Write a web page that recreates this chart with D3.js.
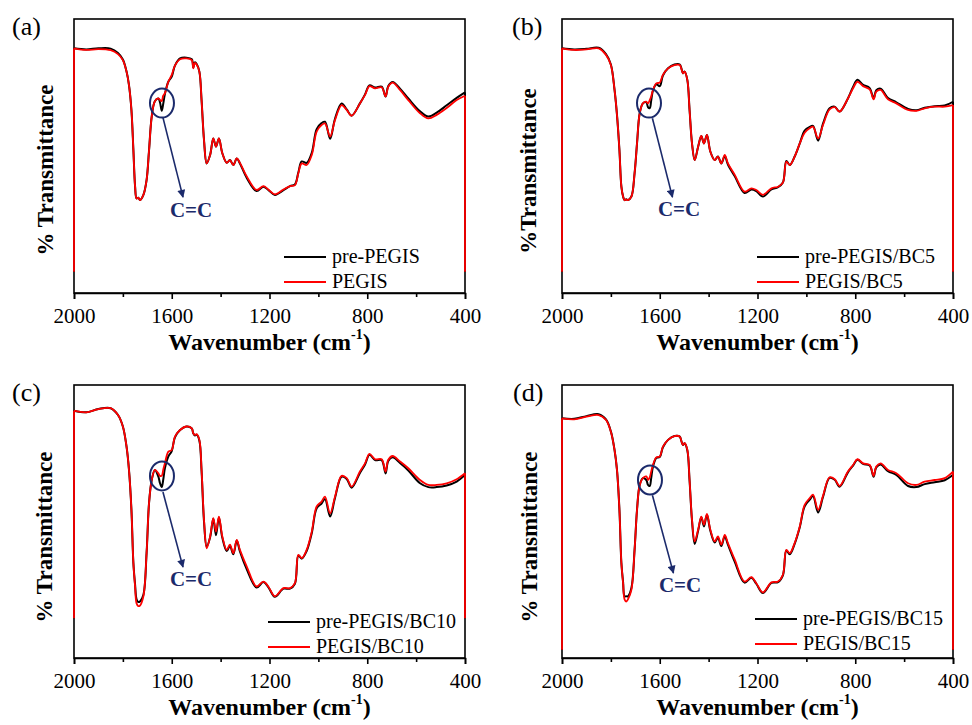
<!DOCTYPE html>
<html><head><meta charset="utf-8">
<script src="https://cdn.jsdelivr.net/npm/d3@7"></script>
<style>
body{margin:0;background:#fff}
svg{display:block}
text{font-family:"Liberation Serif","Times New Roman",serif}
</style>
</head><body><svg id="chart" width="972" height="725"></svg>
<script>
// ---------- DATA ----------
const wavenumbers=[2000,1950,1900,1850,1820,1800,1785,1775,1765,1757,1750,1744,1737,1730,1716,1703,1693,1682,1669,1655,1648,1641,1635,1628,1614,1600,1587,1566,1540,1518,1512,1505,1498,1487,1478,1468,1457,1443,1430,1419,1407,1393,1375,1362,1348,1334,1321,1293,1253,1225,1205,1178,1143,1116,1096,1082,1068,1048,1027,1007,987,973,952,932,905,884,864,830,809,791,768,741,725,714,696,666,632,584,550,516,475,434,400];

const panelLetters=["(a)","(b)","(c)","(d)"];
const preNames=["pre-PEGIS","pre-PEGIS/BC5","pre-PEGIS/BC10","pre-PEGIS/BC15"];
const postNames=["PEGIS","PEGIS/BC5","PEGIS/BC10","PEGIS/BC15"];
const yTitles=["% Transmittance","%Transmittance","% Transmittance","% Transmittance"];
const xTitle="Wavenumber (cm";
const xTitleSup="-1";
const xTicksMajor=[2000,1600,1200,800,400];
const xTicksMinor=[1800,1400,1000,600];
const annotationText="C=C";

const pegisA=[89.3,88.7,89.0,88.6,87.2, 85.0,80.8,75.9,66.8,52.2, 38.8,34.5,34.8,33.9,35.8, 41.2,52.0,64.4,70.0,71.0, 70.5,70.0,72.0,72.9,77.1, 79.6,83.0,85.3,85.6,85.0, 82.0,84.0,83.4,80.8,70.4, 55.8,47.3,50.4,56.4,53.4, 56.4,51.0,47.5,48.5,46.7, 49.1,47.5,42.5,37.6,39.0, 37.8,36.0,37.8,39.0,39.4, 43.7,47.3,46.7,50.4,58.9, 61.3,61.9,57.1,63.1,68.6, 66.8,64.7,69.2,72.3,75.5, 74.7,75.1,71.7,75.3,76.8, 74.1,70.4,65.6,63.7,65.0, 67.5,70.4,72.0];
const preA=[89.3,88.9,89.3,89.2,87.6, 85.2,80.8,75.9,66.8,52.2, 38.8,34.5,34.8,33.9,35.8, 41.2,52.0,64.4,70.0,71.0, 69.5,66.5,69.0,72.6,77.1, 79.0,83.0,85.6,85.9,85.3, 82.3,84.2,83.6,80.8,70.4, 55.8,47.3,50.4,56.4,53.4, 56.4,51.0,47.5,48.5,46.7, 49.1,47.3,42.0,37.2,38.8, 37.6,35.8,37.5,39.0,39.6, 44.0,48.0,47.5,51.2,59.8, 62.0,62.5,56.3,63.6,69.2, 67.0,64.7,69.2,72.5,75.8, 75.0,75.3,71.7,75.5,77.0, 74.6,71.0,66.3,64.4,65.8, 68.5,71.2,73.2];

const pegisB=[89.3,88.7,88.9,89.3,86.9, 83.2,74.1,65.0,52.2,38.8, 35.2,33.9,34.2,33.9,35.2, 43.7,54.6,65.6,69.2,69.8, 69.2,70.4,71.7,74.1,76.5, 76.8,79.6,82.0,83.2,83.2, 82.0,80.2,80.8,77.7,66.8, 54.6,48.5,53.4,57.3,54.6, 57.7,51.6,48.5,49.8,47.3, 50.4,47.3,43.1,37.0,38.2, 37.6,35.8,38.2,38.8,40.3, 47.9,46.7,49.8,54.6,58.5, 60.1,60.7,56.4,61.3,67.0, 67.8,66.2,71.0,74.7,77.1, 75.5,74.3,70.7,73.5,74.1, 70.7,69.2,66.8,66.5,67.4, 68.0,68.0,68.6];
const preB=[89.3,88.9,89.1,89.5,87.2, 83.4,74.1,65.0,52.2,38.8, 35.2,33.9,34.2,33.9,35.2, 43.7,54.6,65.6,69.2,69.6, 67.8,67.5,70.2,73.8,76.2, 75.5,79.4,82.0,83.4,83.4, 82.2,80.2,80.8,77.7,66.8, 54.6,48.5,53.4,57.3,54.6, 57.7,51.6,48.5,49.8,47.3, 50.0,46.9,42.6,36.5,37.8, 37.2,35.2,37.8,38.6,40.3, 48.2,46.7,49.8,54.6,59.3, 60.6,61.0,55.6,61.8,67.4, 68.0,66.2,71.0,75.2,77.8, 76.0,74.8,71.0,74.0,74.6, 71.2,69.6,67.2,66.7,67.6, 68.2,68.4,69.8];

const pegisC=[90.6,90.0,91.2,91.5,89.0, 84.8,77.4,68.9,54.3,34.8, 26.2,20.0,19.0,19.2,22.6, 38.4,56.7,65.2,68.9,67.7, 66.7,66.7,68.9,71.3,75.6, 76.2,81.1,83.5,84.8,84.1, 82.3,81.7,82.0,79.9,68.9, 50.6,40.2,44.5,51.2,46.3, 51.8,44.5,39.6,41.5,38.4, 43.3,39.6,33.5,26.2,28.0, 26.2,22.6,25.6,25.6,27.4, 37.8,36.6,39.6,46.3,55.5, 57.3,59.1,53.0,59.1,66.7, 65.9,62.8,68.3,71.3,74.8, 72.8,72.8,68.3,72.6,74.0, 72.0,69.5,65.2,63.4,63.4, 64.0,65.5,67.7];
const preC=[90.6,90.0,91.2,91.5,89.0, 84.8,77.4,68.9,54.3,34.8, 26.8,21.5,20.5,20.7,23.2, 38.4,56.7,65.2,68.9,66.5, 64.0,62.6,65.2,69.5,73.8, 75.8,80.8,83.5,84.8,84.1, 82.3,81.5,81.8,79.6,68.5, 50.0,40.8,44.2,51.0,45.0, 51.5,44.0,39.2,41.0,38.0, 43.0,39.0,32.5,25.8,27.8, 26.0,22.4,25.4,25.4,27.2, 37.5,36.4,39.2,45.8,54.8, 56.6,58.2,51.8,58.6,66.4, 65.6,62.4,67.8,70.9,74.4, 72.5,72.5,67.6,72.2,73.5, 71.4,68.7,64.0,62.6,62.6, 63.2,64.6,67.1];

const pegisD=[87.8,87.4,88.4,89.0,87.2, 82.9,76.2,68.9,54.3,34.8, 27.4,21.5,20.7,21.5,25.0, 39.6,54.3,63.4,65.9,66.5, 65.2,66.2,68.3,70.7,73.5, 73.8,77.4,79.9,81.3,81.1, 79.6,78.0,78.7,76.2,65.2, 50.6,42.7,47.0,51.8,48.8, 52.8,47.0,42.7,44.5,41.5, 45.1,42.1,36.0,28.0,29.6, 27.4,24.0,27.7,28.0,30.5, 39.6,38.4,42.1,48.2,56.1, 58.5,59.8,54.3,59.4,66.2, 65.5,63.0,68.3,70.7,72.8, 71.3,70.7,66.7,70.1,71.3, 68.9,67.7,64.0,63.4,64.6, 65.2,65.9,68.3];
const preD=[87.8,87.6,88.6,89.3,87.4, 83.0,76.2,68.9,54.3,34.8, 27.8,22.6,22.6,22.6,25.6, 39.6,54.3,63.4,65.9,65.2, 63.4,63.0,65.9,70.0,73.3, 73.6,77.2,79.9,81.3,81.1, 79.6,78.0,78.7,76.0,65.0, 50.3,41.8,46.6,51.6,48.2, 52.5,46.6,42.3,44.0,41.0, 44.6,41.5,35.2,27.6,29.4, 27.2,23.8,27.5,27.8,30.3, 39.4,38.0,41.8,47.9,55.6, 57.9,59.3,53.3,59.0,66.0, 65.3,62.7,68.0,70.5,72.6, 71.1,70.5,66.4,69.8,70.9, 68.4,67.1,63.0,62.6,63.7, 64.4,65.1,67.1];

const preSeries=[preA,preB,preC,preD];
const postSeries=[pegisA,pegisB,pegisC,pegisD];
const edgeLow=[7.8,7.8,14.6,3.0];

// annotation anchors in data units: [wavenumber, value]
const annCircle=[[1640,69.3],[1644,69.3],[1640,66.7],[1640,65.2]];
const annArrowFrom=[[1636,64.0],[1630,63.8],[1636,60.8],[1630,59.6]];
const annArrowTo=[[1554,35.0],[1548,35.0],[1554,33.3],[1544,31.1]];
const annLabel=[[1521,30.3],[1521,30.7],[1521,28.9],[1517,26.7]];

// ---------- LAYOUT ----------
const layout=[
 {x0:74,x1:465,y0:19,y1:293,lab:[12,35],yt:[45,170],lx:284,ly:257},
 {x0:562,x1:953,y0:19,y1:293,lab:[512,35],yt:[528,171],lx:757,ly:257},
 {x0:74,x1:465,y0:385,y1:658,lab:[12,401],yt:[44,537],lx:268,ly:622},
 {x0:562,x1:953,y0:385,y1:658,lab:[513,401],yt:[529,537],lx:755,ly:619}
];
const navy="#1b2a6b";

const svg=d3.select("#chart");
const defs=svg.append("defs");
defs.append("marker").attr("id","arrowhead").attr("viewBox","0 0 10 10")
 .attr("refX",9).attr("refY",5).attr("markerWidth",9).attr("markerHeight",8)
 .attr("markerUnits","userSpaceOnUse").attr("orient","auto")
 .append("path").attr("d","M0,0 L10,5 L0,10 Z").attr("fill",navy);

layout.forEach((L,i)=>{
  const g=svg.append("g");
  const x=d3.scaleLinear().domain([2000,400]).range([L.x0,L.x1]);
  const y=d3.scaleLinear().domain([0,100]).range([L.y1,L.y0]);

  const pts=(vals)=>vals.map((v,k)=>[wavenumbers[k],v]);
  const edges=(vals)=>[
    [[wavenumbers[0],edgeLow[i]],[wavenumbers[0],vals[0]]],
    [[wavenumbers[wavenumbers.length-1],vals[vals.length-1]],[wavenumbers[wavenumbers.length-1],edgeLow[i]]]
  ];
  const smooth=d3.line().x(d=>x(d[0])).y(d=>y(d[1])).curve(d3.curveCatmullRom.alpha(0.5));
  const straight=d3.line().x(d=>x(d[0])).y(d=>y(d[1]));

  // frame
  g.append("rect").attr("x",L.x0).attr("y",L.y0).attr("width",L.x1-L.x0).attr("height",L.y1-L.y0)
   .attr("fill","none").attr("stroke","#000").attr("stroke-width",1.6);

  [[preSeries[i],"#000",2],[postSeries[i],"#ff0000",1.8]].forEach(([vals,col,w])=>{
    edges(vals).forEach(seg=>{
      g.append("path").datum(seg).attr("d",straight).attr("fill","none")
       .attr("stroke",col).attr("stroke-width",w);
    });
    g.append("path").datum(pts(vals)).attr("d",smooth).attr("fill","none")
     .attr("stroke",col).attr("stroke-width",w).attr("stroke-linejoin","round");
  });

  // axes
  const ax=g.append("g").attr("transform",`translate(0,${L.y1})`)
   .call(d3.axisBottom(x).tickValues(xTicksMajor).tickSize(6).tickPadding(9).tickFormat(d3.format("d")));
  ax.select(".domain").attr("stroke-width",1.6);
  ax.selectAll(".tick line").attr("stroke-width",1.6);
  ax.selectAll("text").attr("font-size",21).attr("fill","#000");
  const axm=g.append("g").attr("transform",`translate(0,${L.y1})`)
   .call(d3.axisBottom(x).tickValues(xTicksMinor).tickSize(4).tickFormat(""));
  axm.select(".domain").remove();
  axm.selectAll(".tick line").attr("stroke-width",1.6);

  // x title
  const xt=g.append("text").attr("x",(L.x0+L.x1)/2).attr("y",L.y1+57).attr("text-anchor","middle")
   .attr("font-size",24).attr("font-weight","bold");
  xt.append("tspan").text(xTitle);
  xt.append("tspan").attr("font-size",14).attr("dy",-11).text(xTitleSup);
  xt.append("tspan").attr("dy",11).text(")");

  // y title
  g.append("text").attr("transform",`translate(${L.yt[0]},${L.yt[1]}) rotate(-90)`)
   .attr("text-anchor","middle").attr("dominant-baseline","central")
   .attr("font-size",23).attr("font-weight","bold").text(yTitles[i]);

  // panel letter
  g.append("text").attr("x",L.lab[0]).attr("y",L.lab[1]).attr("font-size",26).text(panelLetters[i]);

  // legend
  [[preNames[i],"#000"],[postNames[i],"#ff0000"]].forEach((e,k)=>{
    const ly=L.ly+k*25;
    g.append("line").attr("x1",L.lx).attr("x2",L.lx+42).attr("y1",ly).attr("y2",ly)
     .attr("stroke",e[1]).attr("stroke-width",2);
    g.append("text").attr("x",L.lx+48).attr("y",ly+6).attr("font-size",20).text(e[0]);
  });

  // annotation
  g.append("ellipse").attr("cx",x(annCircle[i][0])).attr("cy",y(annCircle[i][1]))
   .attr("rx",12).attr("ry",14.5).attr("fill","none").attr("stroke",navy).attr("stroke-width",2);
  g.append("line").attr("x1",x(annArrowFrom[i][0])).attr("y1",y(annArrowFrom[i][1]))
   .attr("x2",x(annArrowTo[i][0])).attr("y2",y(annArrowTo[i][1]))
   .attr("stroke",navy).attr("stroke-width",1.6).attr("marker-end","url(#arrowhead)");
  g.append("text").attr("x",x(annLabel[i][0])).attr("y",y(annLabel[i][1]))
   .attr("text-anchor","middle").attr("dominant-baseline","central")
   .attr("font-size",21).attr("font-weight","bold").attr("fill",navy).text(annotationText);
});
</script>
</body></html>
